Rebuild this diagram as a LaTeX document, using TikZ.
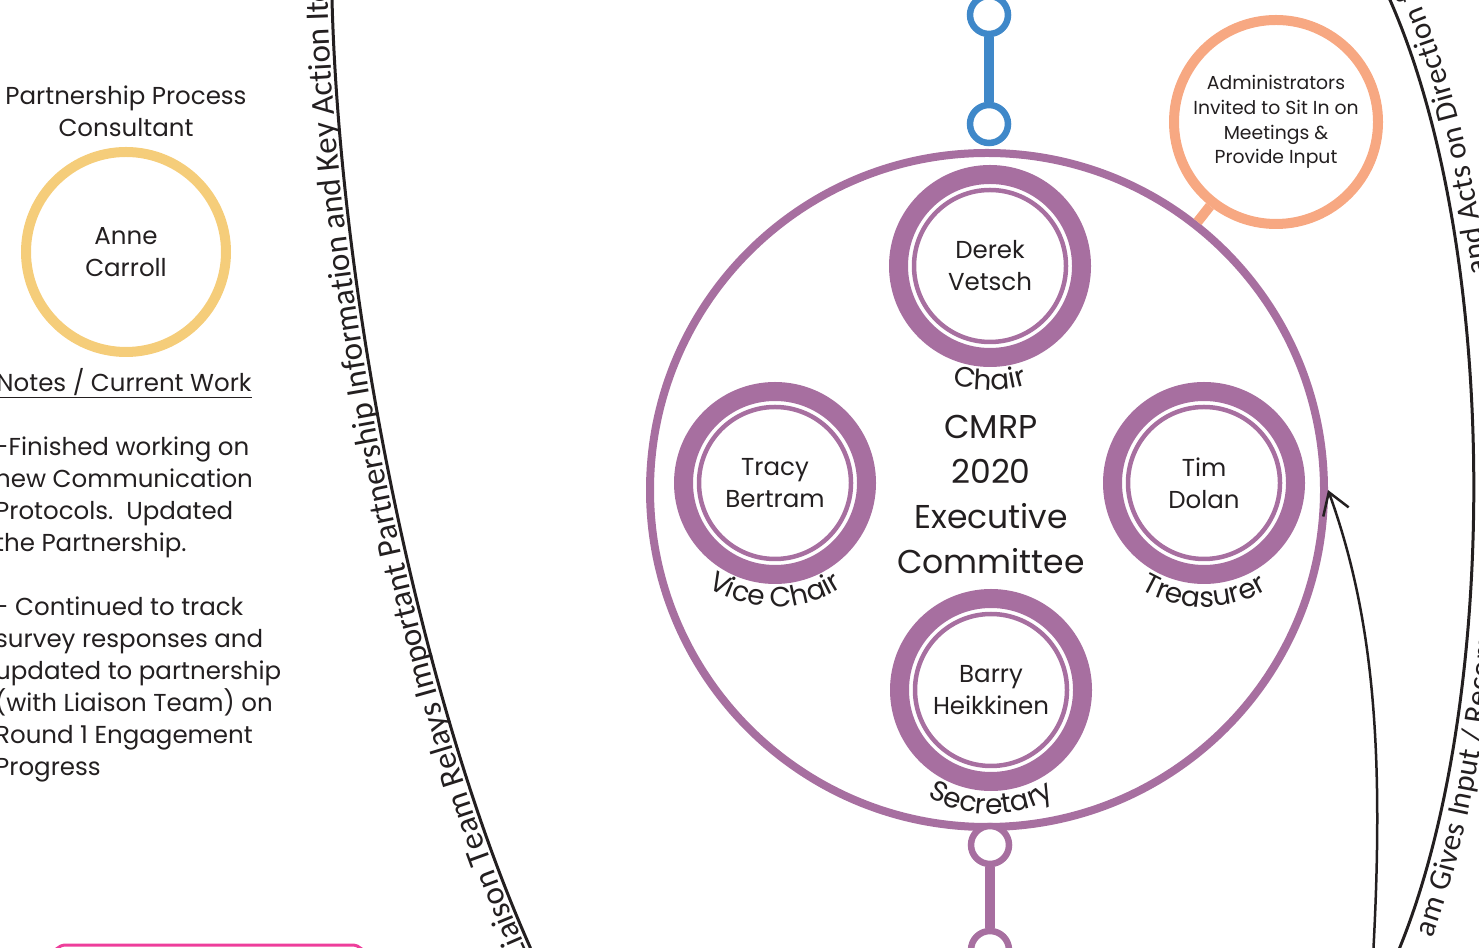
\documentclass[tikz,border=0pt]{standalone}
\usepackage{fontspec}
\setmainfont{Poppins}
\newfontfamily\arcfamily{Carlito}
\usetikzlibrary{positioning,calc,arrows.meta,decorations.text}

\definecolor{cmrppurple}{HTML}{A76FA0}
\definecolor{linkblue}{HTML}{3F88C9}
\definecolor{adminorange}{HTML}{F7A882}
\definecolor{consultyellow}{HTML}{F5CD7A}
\definecolor{notepink}{HTML}{EE3E9B}
\definecolor{ink}{HTML}{231F20}

\newcommand{\namefont}{\fontsize{24.5}{32}\selectfont}
\newcommand{\rolefont}{\fontsize{28}{30}\selectfont}
\newcommand{\titlefont}{\fontsize{33}{45}\selectfont}
\newcommand{\adminfont}{\fontsize{18.8}{24.8}\selectfont}
\newcommand{\arcfont}{\arcfamily\fontsize{33}{35}\selectfont}
\newcommand{\farfont}{\arcfamily\fontsize{31}{33}\selectfont}

\tikzset{
  committee/.style = {circle,draw=cmrppurple,line width=8pt,minimum size=674pt,inner sep=0pt},
  member/.style    = {circle,draw=cmrppurple,line width=19pt,minimum size=183pt,inner sep=0pt},
  nameplate/.style = {circle,draw=cmrppurple,line width=4.5pt,minimum size=152pt,inner sep=0pt,
                      align=center,font=\namefont,text=ink},
  hub/.style       = {circle,fill=white,line width=6.5pt,minimum size=38pt,inner sep=0pt},
  link/.style      = {line width=10pt},
  txt/.style       = {align=center,text=ink,inner sep=0pt},
  arcline/.style   = {draw=ink,line width=3pt},
  >={Straight Barb[length=21pt,width=27pt]}
}

\newcommand{\DrawMember}[4]{%
  % thick ring of the member
  \node[member] (#1) at #2 {};
  % thin ring holding the name
  \node[nameplate] (#1name) at (#1.center) {#3};
  % role written along the lower side of the ring
  \path[decorate,decoration={text along path,text align=center,text color=ink,
      text={|\rolefont|#4}}]
    ($(#1.center)+(-165:124)$) arc[start angle=-165,end angle=-15,radius=124];
}

\begin{document}
\begin{tikzpicture}[x=1pt,y=1pt,font=\namefont]
  \useasboundingbox (0,0) rectangle (1479,947);
  \clip (0,0) rectangle (1479,947);

  % consultant and notes on the left
  \node[txt] (ppctitle) at (126,836) {Partnership Process\\Consultant};
  \node[circle,draw=consultyellow,line width=10pt,minimum size=200pt,txt] (ppc) at (126,695) {Anne\\Carroll};
  \node[txt] (noteshead) at (124,564) {\underline{Notes / Current Work}};
  \node[txt,align=left,anchor=north west] (notes) at (-5,510)
    {-Finished working on\\new Communication\\Protocols.\ \ Updated\\the Partnership.\\[32pt]
     - Continued to track\\survey responses and\\updated to partnership\\(with Liaison Team) on\\
     Round 1 Engagement\\Progress};
  \draw[notepink,line width=3pt,rounded corners=14pt] (52,-60) rectangle (366,2);

  % liaison arc on the left
  \draw[arcline,postaction={decorate,decoration={text along path,raise=4pt,
      text align={left indent=44pt},text color=ink,
      text={|\arcfont|Liaison Team Relays Important Partnership  Information and Key Action Ite}}}]
    (545,-48) -- (530,0) .. controls (420,247) and (340,647) .. (332,947) -- (331,985);

  % liaison arc on the right
  \draw[arcline,
    postaction={decorate,decoration={text along path,raise=-27pt,text color=ink,
      text align={left indent=62pt},text={|\farfont|am Gives Input / Recom}}},
    postaction={decorate,decoration={text along path,raise=-27pt,text color=ink,
      text align={right,right indent=44pt},text={|\farfont|and Acts on Direction f}}}]
    (1384,-40) -- (1400,0) .. controls (1500,247) and (1500,697) .. (1390,947) -- (1372,987);

  % executive committee
  \node[committee] (comm) at (987,457) {};
  \node[txt,font=\titlefont] (cmrp) at (991,452) {CMRP\\2020\\Executive\\Committee};

  \DrawMember{chair}{(990,681)}{Derek\\Vetsch}{Chair}
  \DrawMember{vice}{(775,464)}{Tracy\\Bertram}{Vice Chair}
  \DrawMember{treas}{(1204,464)}{Tim\\Dolan}{Treasurer}
  \DrawMember{secr}{(991,257)}{Barry\\Heikkinen}{Secretary}

  % link to the group above
  \node[hub,draw=linkblue] (upper) at (989,932) {};
  \node[hub,draw=linkblue] (upperdock) at (989,823) {};
  \draw[link,linkblue] (upper) -- (upperdock);

  % link to the group below
  \node[hub,draw=cmrppurple] (lowerdock) at (990,102) {};
  \node[hub,draw=cmrppurple] (lower) at (990,-3) {};
  \draw[link,cmrppurple] (lowerdock) -- (lower);

  % administrators callout
  \node[circle,draw=adminorange,line width=10pt,minimum size=204pt,txt,font=\adminfont] (adm) at (1276,825)
    {Administrators\\Invited to Sit In on\\Meetings \&\\Provide Input};
  \draw[adminorange,line width=10pt] (adm) -- (comm);

  % feedback arrow into the committee
  \coordinate (fbstart) at (1373,-10);
  \draw[->,draw=ink,line width=2.5pt] (fbstart) .. controls (1384,190) and (1375,327) .. (comm.east);
\end{tikzpicture}
\end{document}
